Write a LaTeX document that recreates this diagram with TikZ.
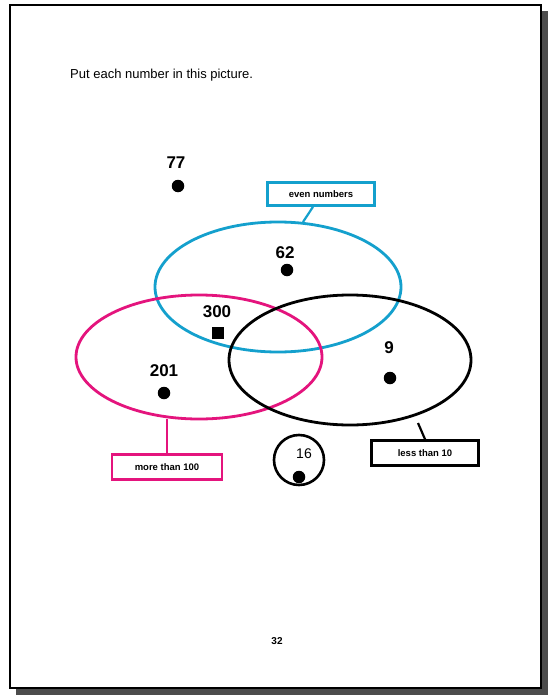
\documentclass[tikz,border=0pt]{standalone}
\usepackage{fontspec}
\setmainfont{Liberation Sans}
\begin{document}
\definecolor{setblue}{RGB}{20,160,205}
\definecolor{setpink}{RGB}{228,20,125}
\begin{tikzpicture}[x=1pt,y=-1pt,
  setline/.style={line width=2.8pt},
  tag/.style={draw,line width=2.6pt,fill=white,inner xsep=4pt,inner ysep=3pt,
    font=\fontsize{9.5}{10}\selectfont\bfseries},
  num/.style={font=\fontsize{17}{18}\selectfont\bfseries,inner sep=0pt},
  bead/.style={circle,fill=black,minimum size=12.5pt,inner sep=0pt}]
\useasboundingbox (0,0) rectangle (553,698);
% page with drop shadow
\fill[black!70] (16,11) rectangle (548,695);
\draw[fill=white,line width=1.6pt] (10,5) rectangle (541,688);
% instruction
\node[anchor=west,font=\fontsize{13}{14}\selectfont,inner sep=0pt] (title) at (70,75) {Put each number in this picture.};
% the three sets
\draw[setline,setblue] (278,287) ellipse [x radius=123, y radius=65];
\draw[setline,setpink] (199,357) ellipse [x radius=123, y radius=62];
\draw[setline,black] (350,360) ellipse [x radius=121, y radius=65];
% set labels
\coordinate (blueTop) at (303,222);
\coordinate (pinkBot) at (167,419);
\coordinate (blackBot) at (418,423);
\node[tag,draw=setblue,minimum width=107pt,minimum height=23pt] (even) at (321,194) {even numbers};
\node[tag,draw=setpink,minimum width=110pt,minimum height=25pt] (more) at (167,467) {more than 100};
\node[tag,minimum width=107pt,minimum height=25pt] (less) at (425,453) {less than 10};
\draw[setblue,line width=2.2pt] (even.south) ++(-8,0) coordinate (e1) -- (blueTop);
\draw[setpink,line width=2.2pt] (more.north) -- (pinkBot);
\draw[black,line width=2.2pt] (less.north) -- (blackBot);
% numbers with their beads
\node[num] (n77) at (176,163) {77};
\node[bead] (b77) at (178,186) {};
\node[num] (n62) at (285,253) {62};
\node[bead] (b62) at (287,270) {};
\node[num] (n300) at (217,312) {300};
\node[bead,rectangle,minimum size=12pt] (b300) at (218,333) {};
\node[num] (n201) at (164,371) {201};
\node[bead] (b201) at (164,393) {};
\node[num] (n9) at (389,348) {9};
\node[bead] (b9) at (390,378) {};
% the number still to be placed
\node[circle,draw,line width=2.6pt,minimum size=50pt,inner sep=0pt] (ring) at (299,460) {};
\node[font=\fontsize{14}{15}\selectfont,inner sep=0pt] (n16) at (304,454) {16};
\node[bead] (b16) at (299,477) {};
% page number
\node[font=\fontsize{10}{11}\selectfont\bfseries,inner sep=0pt] (page) at (277,641) {32};
\end{tikzpicture}
\end{document}
